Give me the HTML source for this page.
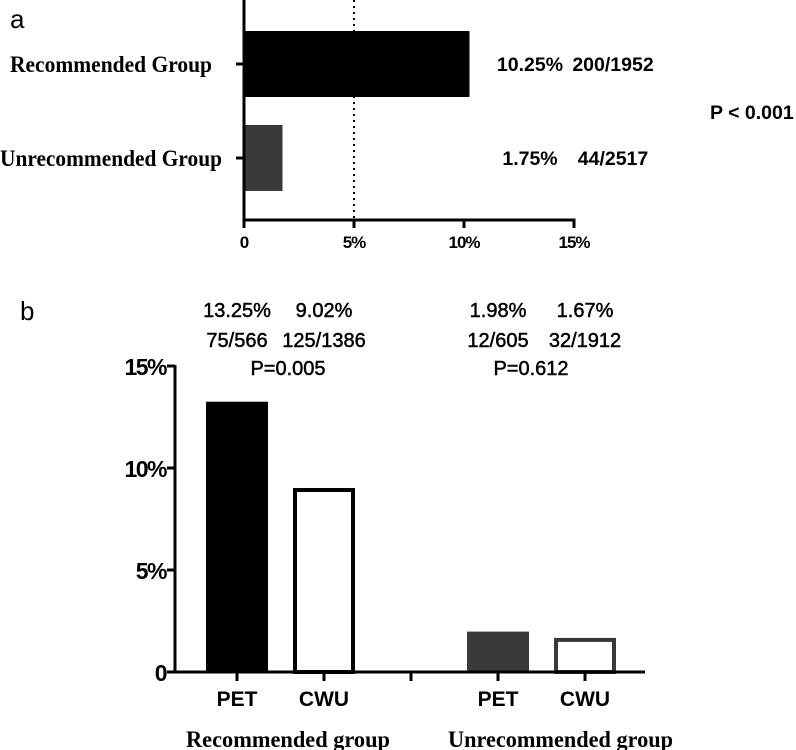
<!DOCTYPE html>
<html><head><meta charset="utf-8"><style>
html,body{margin:0;padding:0;background:#fff;}
svg{display:block;}
.s{font-family:"Liberation Sans",sans-serif;}
.sr{font-family:"Liberation Serif",serif;font-weight:bold;}
.m{stroke:#000;stroke-width:0.5;}
</style></head><body>
<svg id="chart" width="796" height="750" viewBox="0 0 796 750" xmlns="http://www.w3.org/2000/svg">
<text x="10" y="28" class="s" font-size="26">a</text>
<text x="20" y="320" class="s" font-size="26">b</text>
<g id="pa"></g>
<g id="pb"></g>
</svg>
<script>
const aCategories = ["Recommended Group", "Unrecommended Group"];
const aValues = [10.25, 1.75];
const aPct = ["10.25%", "1.75%"];
const aCounts = ["200/1952", "44/2517"];
const aTicks = [0, 5, 10, 15];
const aTickLabels = ["0", "5%", "10%", "15%"];
const aColors = ["#000", "#3a3a3a"];

const bGroups = ["Recommended group", "Unrecommended group"];
const bCats = ["PET", "CWU", "PET", "CWU"];
const bValues = [13.25, 9.02, 1.98, 1.67];
const bPct = ["13.25%", "9.02%", "1.98%", "1.67%"];
const bCounts = ["75/566", "125/1386", "12/605", "32/1912"];
const bP = ["P=0.005", "P=0.612"];
const bTicks = [0, 5, 10, 15];
const bTickLabels = ["0", "5%", "10%", "15%"];

const NS = "http://www.w3.org/2000/svg";
function mk(parent, tag, attrs, text) {
  const e = document.createElementNS(NS, tag);
  for (const k in attrs) e.setAttribute(k, attrs[k]);
  if (text !== undefined) e.textContent = text;
  parent.appendChild(e);
  return e;
}
// Panel a
const pa = document.getElementById('pa');
const ax = v => 244 + v * (574 - 244) / 15;
const aBandY = [31, 125], aBandH = 66;
let e;
e = mk(pa, 'line', {x1: ax(5), x2: ax(5), y1: 0, y2: 220, stroke: '#000', 'stroke-width': 2, 'stroke-dasharray': '2,4'});


aValues.forEach((v, i) => {
  const y = aBandY[i];
  e = mk(pa, 'rect', {x: ax(0), y: y, width: ax(v) - ax(0), height: aBandH, fill: aColors[i]});
  
  
  const cy = y + aBandH / 2;
  e = mk(pa, 'line', {x1: ax(0) - 8, x2: ax(0), y1: cy, y2: cy, stroke: '#000', 'stroke-width': 3});
  
  
  e = mk(pa, 'text', {x: [10, 0][i], y: cy + 8, class: 'sr', 'font-size': 23, textLength: [202, 222][i], lengthAdjust: 'spacingAndGlyphs'}, aCategories[i]);
  
  
  e = mk(pa, 'text', {x: 530, y: cy + 7, 'text-anchor': 'middle', class: 's', 'font-size': 19.5, 'font-weight': 'bold'}, aPct[i]);
  
  
  e = mk(pa, 'text', {x: 613, y: cy + 7, 'text-anchor': 'middle', class: 's', 'font-size': 19.5, 'font-weight': 'bold'}, aCounts[i]);
  
  
});
e = mk(pa, 'line', {x1: ax(0), x2: ax(0), y1: 0, y2: 221.5, stroke: '#000', 'stroke-width': 3});


e = mk(pa, 'line', {x1: ax(0) - 1.5, x2: ax(15) + 1.5, y1: 220, y2: 220, stroke: '#000', 'stroke-width': 3});


aTicks.forEach((t, i) => {
  e = mk(pa, 'line', {x1: ax(t), x2: ax(t), y1: 220, y2: 228, stroke: '#000', 'stroke-width': 3});
  
  
  e = mk(pa, 'text', {x: ax(t), y: 248, 'text-anchor': 'middle', class: 's', 'font-size': 17, 'font-weight': 'bold', 'letter-spacing': '-1'}, aTickLabels[i]);
  
  
});
e = mk(pa, 'text', {x: 710, y: 119, class: 's', 'font-size': 19.5, 'font-weight': 'bold'}, 'P < 0.001');



// Panel b
const pb = document.getElementById('pb');
const by = v => 672 - v * (672 - 366) / 15;
const bCenters = [237, 324, 498, 585];
const bw = 62;
const fills = ['#000', '#fff', '#3a3a3a', '#fff'];
const strokes = ['#000', '#000', '#3a3a3a', '#3a3a3a'];
bValues.forEach((v, i) => {
  const x = bCenters[i] - bw / 2;
  const solid = i % 2 === 0;
  if (solid) {
    e = mk(pb, 'rect', {x: x, y: by(v), width: bw, height: by(0) - by(v), fill: fills[i]});
  } else {
    e = mk(pb, 'rect', {x: x + 2, y: by(v) + 2, width: bw - 4, height: by(0) - by(v) - 2, fill: '#fff', stroke: strokes[i], 'stroke-width': 4});
  }
  
  
  e = mk(pb, 'text', {x: bCenters[i], y: 317, 'text-anchor': 'middle', class: 's m', 'font-size': 20}, bPct[i]);
  
  
  e = mk(pb, 'text', {x: bCenters[i], y: 347, 'text-anchor': 'middle', class: 's m', 'font-size': 20}, bCounts[i]);
  
  
  e = mk(pb, 'line', {x1: bCenters[i], x2: bCenters[i], y1: by(0), y2: by(0) + 9, stroke: '#000', 'stroke-width': 3});
  
  
  e = mk(pb, 'text', {x: bCenters[i], y: 706, 'text-anchor': 'middle', class: 's', 'font-size': 21, 'font-weight': 'bold'}, bCats[i]);
  
  
});
e = mk(pb, 'line', {x1: 411, x2: 411, y1: by(0), y2: by(0) + 9, stroke: '#000', 'stroke-width': 3});


[288, 531].forEach((cx, g) => {
  e = mk(pb, 'text', {x: cx, y: 375, 'text-anchor': 'middle', class: 's m', 'font-size': 20}, bP[g]);
  
  
  e = mk(pb, 'text', {x: [186, 448][g], y: 747, class: 'sr', 'font-size': 23, textLength: [204, 225][g], lengthAdjust: 'spacingAndGlyphs'}, bGroups[g]);
  
  
});
e = mk(pb, 'line', {x1: 175, x2: 175, y1: by(15) - 1, y2: by(0) + 1.5, stroke: '#000', 'stroke-width': 3});


e = mk(pb, 'line', {x1: 175, x2: 645, y1: by(0), y2: by(0), stroke: '#000', 'stroke-width': 3});


bTicks.forEach((t, i) => {
  e = mk(pb, 'line', {x1: 167, x2: 175, y1: by(t), y2: by(t), stroke: '#000', 'stroke-width': 3});
  
  
  e = mk(pb, 'text', {x: 166, y: by(t) + 9, 'text-anchor': 'end', class: 's', 'font-size': 23, 'font-weight': 'bold', 'letter-spacing': '-1.5'}, bTickLabels[i]);
  
  
});
</script>
</body></html>
